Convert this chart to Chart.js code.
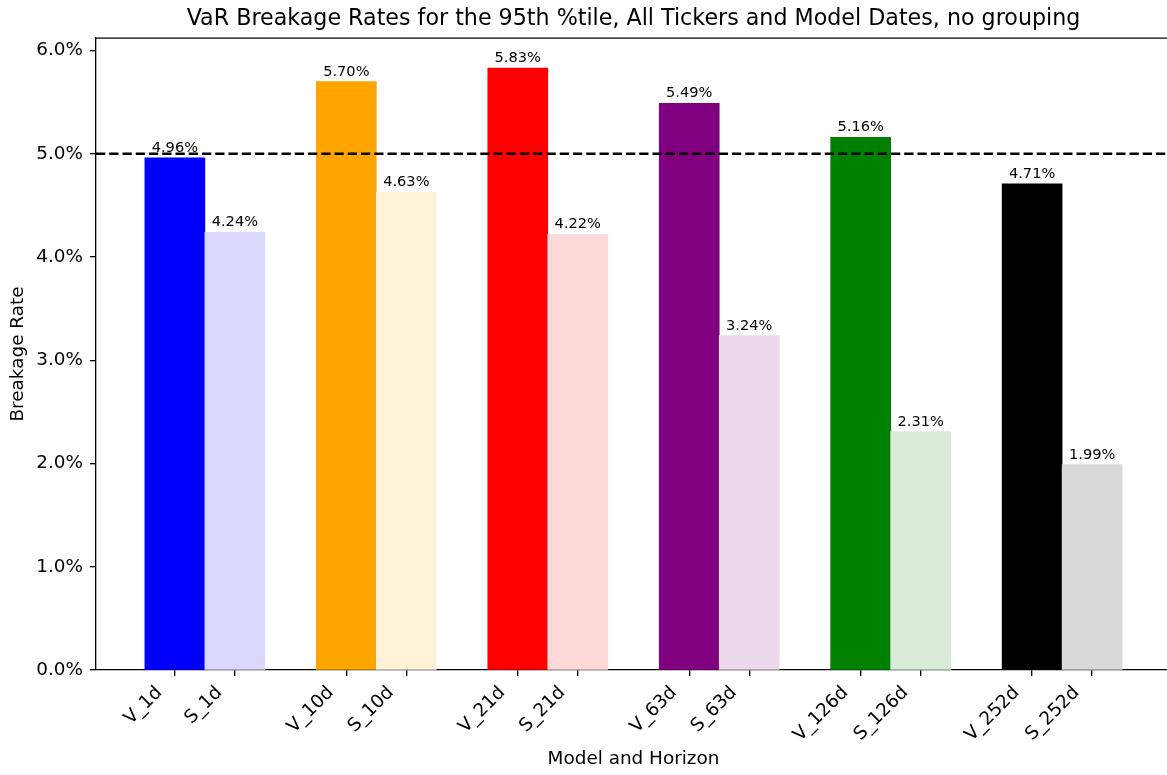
<!DOCTYPE html>
<html>
<head>
<meta charset="utf-8">
<script src="https://cdn.jsdelivr.net/npm/chart.js@4.4.1/dist/chart.umd.min.js"></script>
<style>
  html, body { margin: 0; padding: 0; background: #fff; overflow: hidden; }
  #wrap { width: 1167px; height: 775px; overflow: hidden; position: relative; }
  canvas { display: block; }
</style>
</head>
<body>
<!-- canvas slightly wider than the frame: the right spine of the original sits just past the edge -->
<div id="wrap"><canvas id="chart" width="1172" height="775"></canvas></div>
<script>
const horizons = ['1d', '10d', '21d', '63d', '126d', '252d'];
const varRates = [4.96, 5.70, 5.83, 5.49, 5.16, 4.71];
const simRates = [4.24, 4.63, 4.22, 3.24, 2.31, 1.99];
const baseColors = ['#0000ff', '#ffa500', '#ff0000', '#800080', '#008000', '#000000'];
const lightColors = ['#d9d9ff', '#fff2d9', '#ffd9d9', '#ecd9ec', '#d9ecd9', '#d9d9d9'];
const targetRate = 5.0;

const BAR_W = 0.35;

// two bars per horizon: V at i, S right next to it
const labels = [], points = [], colors = [];
horizons.forEach((h, i) => {
    labels.push('V_' + h); points.push({ x: i, y: varRates[i] }); colors.push(baseColors[i]);
    labels.push('S_' + h); points.push({ x: i + BAR_W, y: simRates[i] }); colors.push(lightColors[i]);
});

// matplotlib-like 5% margins on x, 5% headroom on y
const span = (horizons.length - 1 + BAR_W) + BAR_W;
const xMin = -BAR_W / 2 - 0.05 * span;
const xMax = horizons.length - 1 + BAR_W + BAR_W / 2 + 0.05 * span;
const yMax = Math.max(...varRates, ...simRates) * 1.05;

Chart.defaults.font.family = '"DejaVu Sans", sans-serif';
Chart.defaults.color = '#000';

const barLabels = {
    id: 'barLabels',
    afterDatasetsDraw(chart) {
        const meta = chart.getDatasetMeta(1);
        const ctx = chart.ctx;
        ctx.save();
        ctx.font = '14.6px "DejaVu Sans"';
        ctx.fillStyle = '#000';
        ctx.textAlign = 'center';
        ctx.textBaseline = 'alphabetic';
        meta.data.forEach((bar, i) => {
            ctx.fillText(points[i].y.toFixed(2) + '%', bar.x, bar.y - 6);
        });
        ctx.restore();
    }
};

// top spine only; the right one is outside the picture in the original
const frame = {
    id: 'frame',
    afterDraw(chart) {
        const { ctx, chartArea: a } = chart;
        ctx.save();
        ctx.strokeStyle = '#000';
        ctx.lineWidth = 1.33;
        ctx.beginPath();
        ctx.moveTo(a.left, a.top);
        ctx.lineTo(a.right, a.top);
        ctx.stroke();
        ctx.restore();
    }
};

new Chart(document.getElementById('chart'), {
    type: 'bar',
    data: {
        datasets: [
            {
                type: 'line',
                data: [{ x: xMin, y: targetRate }, { x: xMax, y: targetRate }],
                borderColor: '#000',
                borderWidth: 2.5,
                borderDash: [9.25, 4],
                pointRadius: 0,
                order: 0
            },
            {
                data: points,
                backgroundColor: colors,
                borderWidth: 0,
                categoryPercentage: 1,
                barPercentage: 1,
                order: 1
            }
        ]
    },
    options: {
        responsive: false,
        animation: false,
        layout: { padding: { left: 0, right: 1, top: 0, bottom: 0 } },
        plugins: {
            legend: { display: false },
            tooltip: { enabled: false },
            title: {
                display: true,
                fullSize: false,
                text: 'VaR Breakage Rates for the 95th %tile, All Tickers and Model Dates, no grouping',
                font: { size: 22.2, weight: 'normal' },
                color: '#000',
                padding: { top: 6, bottom: 5.4 }
            }
        },
        scales: {
            x: {
                type: 'linear',
                min: xMin,
                max: xMax,
                offset: false,
                afterBuildTicks: (scale) => { scale.ticks = points.map(p => ({ value: p.x })); },
                afterFit: (scale) => { scale.height = 105; },
                grid: { display: true, drawOnChartArea: false, drawTicks: true, tickLength: 6, color: '#000', lineWidth: 1.33, offset: false },
                border: { display: true, color: '#000', width: 1.33 },
                ticks: {
                    autoSkip: false,
                    minRotation: 45,
                    maxRotation: 45,
                    padding: 6,
                    labelOffset: -15.4,
                    font: { size: 18.4 },
                    callback: (value, index) => labels[index]
                },
                title: {
                    display: true,
                    text: 'Model and Horizon',
                    font: { size: 18.4 },
                    padding: { top: 0, bottom: 4.4 }
                }
            },
            y: {
                min: 0,
                max: yMax,
                afterFit: (scale) => { scale.width = 96; },
                grid: { display: true, drawOnChartArea: false, drawTicks: true, tickLength: 6, color: '#000', lineWidth: 1.33 },
                border: { display: true, color: '#000', width: 1.33 },
                ticks: {
                    stepSize: 1,
                    includeBounds: false,
                    padding: 7,
                    font: { size: 18.4 },
                    callback: (value) => value.toFixed(1) + '%'
                },
                title: {
                    display: true,
                    text: 'Breakage Rate',
                    font: { size: 18.4 },
                    padding: { top: 7.1, bottom: 0 }
                }
            }
        }
    },
    plugins: [barLabels, frame]
});
</script>
</body>
</html>
